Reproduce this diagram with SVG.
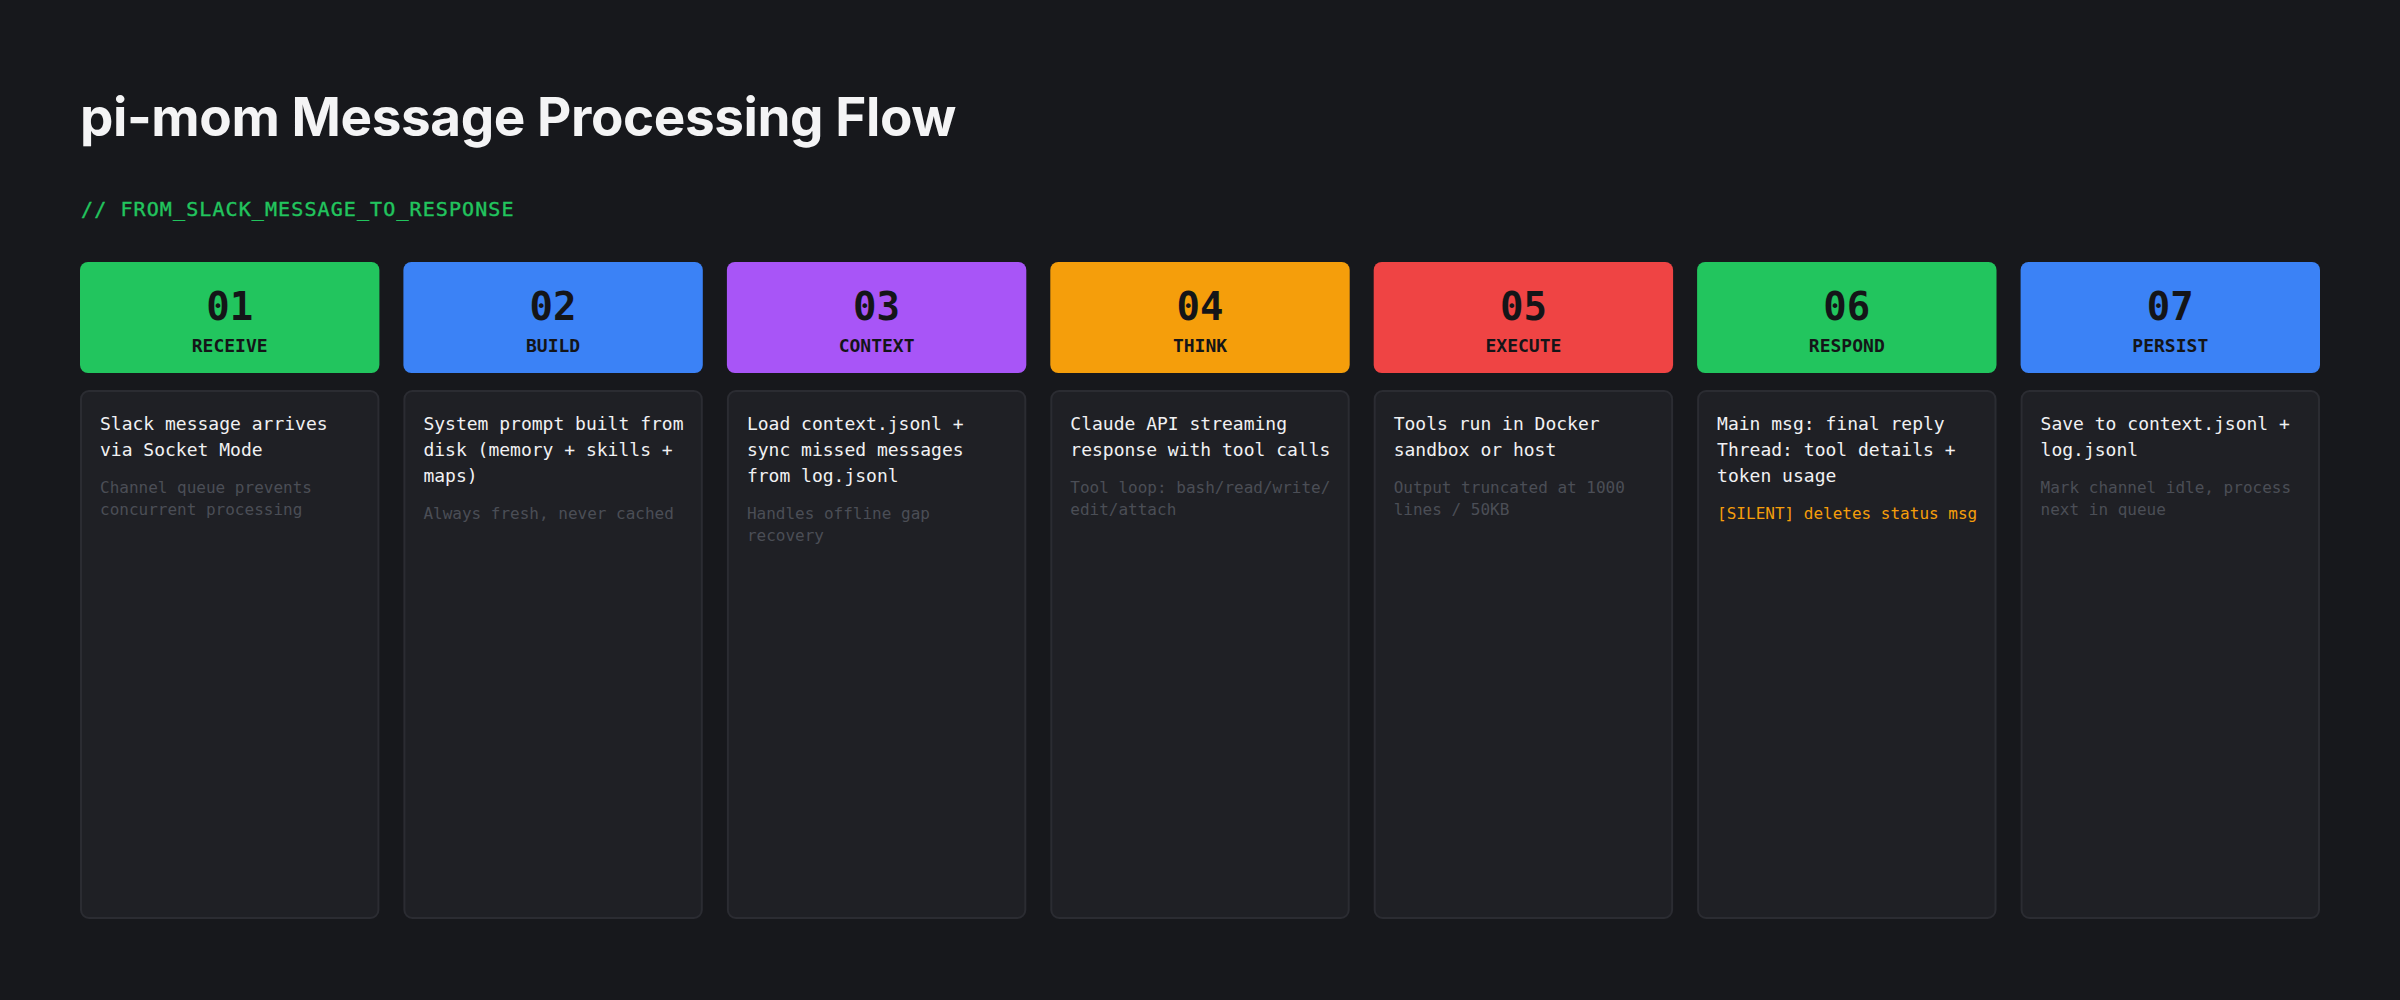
<svg xmlns="http://www.w3.org/2000/svg" width="2400" height="1000" viewBox="0 0 2400 1000">
<style>
.bg{fill:#17181c}
.title{font-family:Inter,"Liberation Sans",sans-serif;font-weight:700;font-size:53px;fill:#f4f4f5;letter-spacing:-0.4px}
.sub{font-family:"DejaVu Sans Mono","Liberation Mono",monospace;font-size:20px;fill:#22c55e;letter-spacing:1.1px;stroke:#22c55e;stroke-width:0.4px}
.num{font-family:"DejaVu Sans Mono","Liberation Mono",monospace;font-size:39px;font-weight:700;fill:#141518;text-anchor:middle}
.lab{font-family:"DejaVu Sans Mono","Liberation Mono",monospace;font-size:18px;font-weight:700;fill:#141518;text-anchor:middle}
.card{fill:#1f2025;stroke:#2b2c32;stroke-width:2}
.main{font-family:"DejaVu Sans Mono","Liberation Mono",monospace;font-size:18px;fill:#f1f1f3}
.note{font-family:"DejaVu Sans Mono","Liberation Mono",monospace;font-size:16px;fill:#4b4e56}
.warn{font-family:"DejaVu Sans Mono","Liberation Mono",monospace;font-size:16px;fill:#f59e0b}
</style>
<rect class="bg" x="0" y="0" width="2400" height="1000"/>
<text class="title" x="80" y="136">pi-mom Message Processing Flow</text>
<text class="sub" x="81" y="216">// FROM_SLACK_MESSAGE_TO_RESPONSE</text>
<g id="connectors"></g>
<g id="step01">
<rect x="80" y="262" width="299.4" height="111" rx="8" fill="#22c55e"/>
<text class="num" x="229.7" y="320">01</text>
<text class="lab" x="229.7" y="352">RECEIVE</text>
<rect class="card" x="81" y="391" width="297.4" height="527" rx="8"/>
<text class="main" x="100" y="430">Slack message arrives</text>
<text class="main" x="100" y="456">via Socket Mode</text>
<text class="note" x="100" y="493">Channel queue prevents</text>
<text class="note" x="100" y="515">concurrent processing</text>
</g>
<g id="step02">
<rect x="403.4" y="262" width="299.4" height="111" rx="8" fill="#3b82f6"/>
<text class="num" x="553.1" y="320">02</text>
<text class="lab" x="553.1" y="352">BUILD</text>
<rect class="card" x="404.4" y="391" width="297.4" height="527" rx="8"/>
<text class="main" x="423.4" y="430">System prompt built from</text>
<text class="main" x="423.4" y="456">disk (memory + skills +</text>
<text class="main" x="423.4" y="482">maps)</text>
<text class="note" x="423.4" y="519">Always fresh, never cached</text>
</g>
<g id="step03">
<rect x="726.9" y="262" width="299.4" height="111" rx="8" fill="#a855f7"/>
<text class="num" x="876.6" y="320">03</text>
<text class="lab" x="876.6" y="352">CONTEXT</text>
<rect class="card" x="727.9" y="391" width="297.4" height="527" rx="8"/>
<text class="main" x="746.9" y="430">Load context.jsonl +</text>
<text class="main" x="746.9" y="456">sync missed messages</text>
<text class="main" x="746.9" y="482">from log.jsonl</text>
<text class="note" x="746.9" y="519">Handles offline gap</text>
<text class="note" x="746.9" y="541">recovery</text>
</g>
<g id="step04">
<rect x="1050.3" y="262" width="299.4" height="111" rx="8" fill="#f59e0b"/>
<text class="num" x="1200" y="320">04</text>
<text class="lab" x="1200" y="352">THINK</text>
<rect class="card" x="1051.3" y="391" width="297.4" height="527" rx="8"/>
<text class="main" x="1070.3" y="430">Claude API streaming</text>
<text class="main" x="1070.3" y="456">response with tool calls</text>
<text class="note" x="1070.3" y="493">Tool loop: bash/read/write/</text>
<text class="note" x="1070.3" y="515">edit/attach</text>
</g>
<g id="step05">
<rect x="1373.7" y="262" width="299.4" height="111" rx="8" fill="#ef4444"/>
<text class="num" x="1523.4" y="320">05</text>
<text class="lab" x="1523.4" y="352">EXECUTE</text>
<rect class="card" x="1374.7" y="391" width="297.4" height="527" rx="8"/>
<text class="main" x="1393.7" y="430">Tools run in Docker</text>
<text class="main" x="1393.7" y="456">sandbox or host</text>
<text class="note" x="1393.7" y="493">Output truncated at 1000</text>
<text class="note" x="1393.7" y="515">lines / 50KB</text>
</g>
<g id="step06">
<rect x="1697.1" y="262" width="299.4" height="111" rx="8" fill="#22c55e"/>
<text class="num" x="1846.8" y="320">06</text>
<text class="lab" x="1846.8" y="352">RESPOND</text>
<rect class="card" x="1698.1" y="391" width="297.4" height="527" rx="8"/>
<text class="main" x="1717.1" y="430">Main msg: final reply</text>
<text class="main" x="1717.1" y="456">Thread: tool details +</text>
<text class="main" x="1717.1" y="482">token usage</text>
<text class="warn" x="1717.1" y="519">[SILENT] deletes status msg</text>
</g>
<g id="step07">
<rect x="2020.6" y="262" width="299.4" height="111" rx="8" fill="#3b82f6"/>
<text class="num" x="2170.3" y="320">07</text>
<text class="lab" x="2170.3" y="352">PERSIST</text>
<rect class="card" x="2021.6" y="391" width="297.4" height="527" rx="8"/>
<text class="main" x="2040.6" y="430">Save to context.jsonl +</text>
<text class="main" x="2040.6" y="456">log.jsonl</text>
<text class="note" x="2040.6" y="493">Mark channel idle, process</text>
<text class="note" x="2040.6" y="515">next in queue</text>
</g>
</svg>
